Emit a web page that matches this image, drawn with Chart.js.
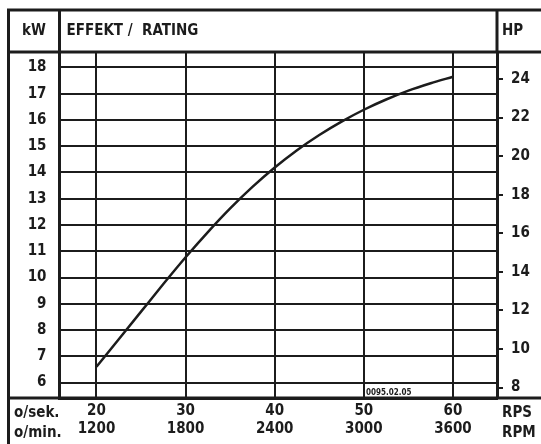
<!DOCTYPE html>
<html>
<head>
<meta charset="utf-8">
<script src="https://cdn.jsdelivr.net/npm/chart.js@4/dist/chart.umd.min.js"></script>
<style>
  body { margin: 0; background: #fff; }
  #wrap { width: 541px; height: 444px; }
</style>
</head>
<body>
<div id="wrap"><canvas id="chart"></canvas></div>
<script>
// curve: revolutions per second -> kW
const rps = [20, 22.5, 25, 27.5, 30, 32.5, 35, 37.5, 40, 42.5, 45, 47.5, 50, 52.5, 55, 57.5, 60];
const kw = [6.6, 7.65, 8.7, 9.75, 10.77, 11.73, 12.63, 13.45, 14.19, 14.85, 15.43, 15.94, 16.39, 16.78, 17.12, 17.4, 17.65];

const rpsTicks = [20, 30, 40, 50, 60];
const rpmLabels = ['1200', '1800', '2400', '3000', '3600'];
const kwTicks = [6, 7, 8, 9, 10, 11, 12, 13, 14, 15, 16, 17, 18];
const hpTicks = [8, 10, 12, 14, 16, 18, 20, 22, 24];

const ink = '#1c1c1c';
const FONT = "'Liberation Sans Narrow', 'DejaVu Sans Condensed', 'DejaVu Sans', sans-serif";
const tickFont = { family: FONT, size: 15, weight: 'bold' };

const frame = {
    id: 'frame',
    beforeDraw(chart) {
        const ctx = chart.ctx;
        ctx.save();
        ctx.fillStyle = '#fff';
        ctx.fillRect(0, 0, chart.width, chart.height);
        ctx.restore();
    },
    afterDraw(chart) {
        const { ctx, chartArea: a, width, height } = chart;
        const left = 8.5, top = 10;
        ctx.save();
        ctx.strokeStyle = ink;
        ctx.lineWidth = 3;
        ctx.beginPath();
        ctx.moveTo(left, height); ctx.lineTo(left, top); ctx.lineTo(width, top);
        ctx.moveTo(left, a.top); ctx.lineTo(width, a.top);
        ctx.moveTo(left, a.bottom); ctx.lineTo(width, a.bottom);
        ctx.moveTo(a.left, top); ctx.lineTo(a.left, a.top);
        ctx.moveTo(a.right, top); ctx.lineTo(a.right, a.top);
        ctx.stroke();

        ctx.fillStyle = ink;
        ctx.font = 'bold 15px ' + FONT;
        ctx.textBaseline = 'middle';
        ctx.textAlign = 'center';
        ctx.fillText('kW', (left + a.left) / 2, 31);
        ctx.textAlign = 'left';
        ctx.fillText('EFFEKT /  RATING', a.left + 7, 31);
        ctx.fillText('HP', a.right + 5, 31);

        ctx.fillText('o/sek.', 14, 413);
        ctx.fillText('o/min.', 14, 433);
        ctx.fillText('RPS', a.right + 5, 413);
        ctx.fillText('RPM', a.right + 5, 433);

        ctx.font = 'bold 8px ' + FONT;
        ctx.fillText('0095.02.05', 366, 393);
        ctx.restore();
    }
};

new Chart(document.getElementById('chart'), {
    type: 'line',
    data: {
        datasets: [{
            data: rps.map((x, i) => ({ x: x, y: kw[i] })),
            borderColor: ink,
            borderWidth: 2.5,
            pointRadius: 0,
            cubicInterpolationMode: 'monotone',
            yAxisID: 'y'
        }]
    },
    options: {
        responsive: true,
        maintainAspectRatio: false,
        animation: false,
        layout: { padding: { top: 52, left: 8, right: 0, bottom: 0 } },
        plugins: {
            legend: { display: false },
            tooltip: { enabled: false }
        },
        scales: {
            x: {
                type: 'linear',
                min: 15.85,
                max: 64.94,
                afterBuildTicks: s => { s.ticks = rpsTicks.map(v => ({ value: v })); },
                afterFit: s => { s.height = 46; },
                grid: { color: ink, lineWidth: 2, drawTicks: false },
                border: { color: ink, width: 3 },
                ticks: {
                    color: ink,
                    font: tickFont,
                    padding: 4,
                    maxRotation: 0,
                    autoSkip: false,
                    callback: v => [String(v), rpmLabels[rpsTicks.indexOf(v)]]
                }
            },
            y: {
                position: 'left',
                min: 5.41,
                max: 18.59,
                afterBuildTicks: s => { s.ticks = kwTicks.map(v => ({ value: v })); },
                afterFit: s => { s.width = 51.5; },
                grid: { color: ink, lineWidth: 2, drawTicks: false },
                border: { color: ink, width: 3 },
                ticks: { color: ink, font: tickFont, padding: 13 }
            },
            hp: {
                position: 'right',
                min: 7.46,
                max: 25.4,
                afterBuildTicks: s => { s.ticks = hpTicks.map(v => ({ value: v })); },
                afterFit: s => { s.width = 44; },
                grid: { drawOnChartArea: false, color: ink, lineWidth: 2, tickLength: 6 },
                border: { color: ink, width: 3 },
                ticks: { color: ink, font: tickFont, padding: 8 }
            }
        }
    },
    plugins: [frame]
});
</script>
</body>
</html>
